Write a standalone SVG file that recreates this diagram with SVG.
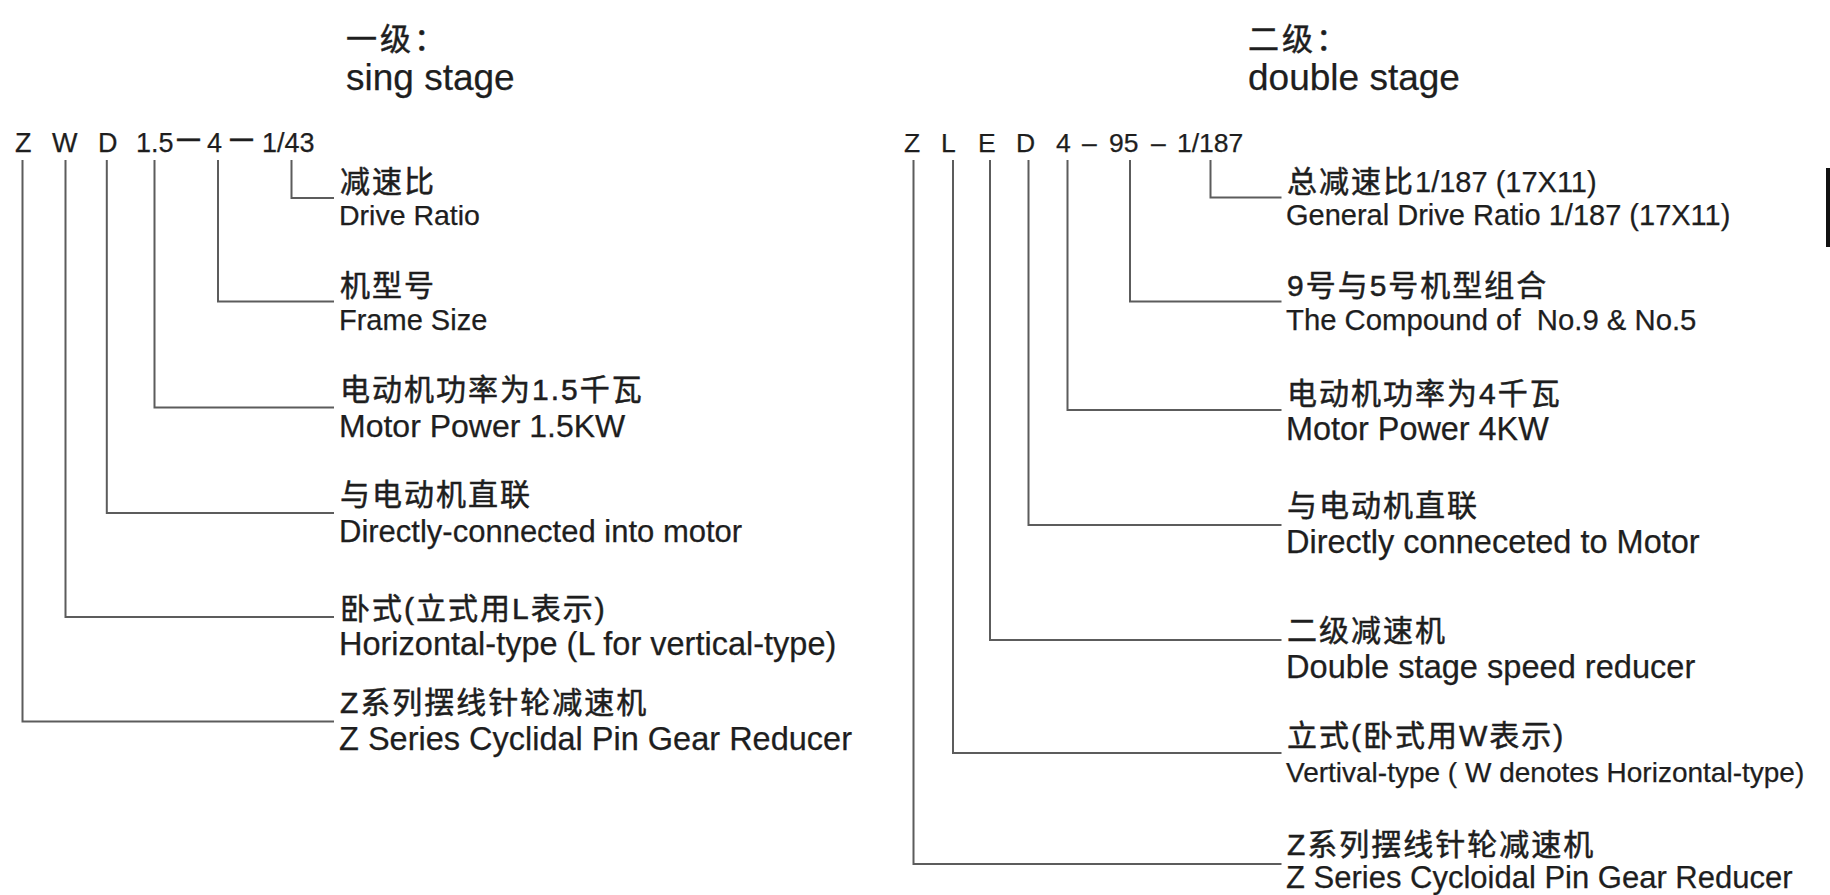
<svg xmlns="http://www.w3.org/2000/svg" width="1830" height="895" viewBox="0 0 1830 895">
<style>
text{font-family:"Liberation Sans","Noto Sans CJK SC",sans-serif;fill:#1e1e1e;stroke:#1e1e1e;stroke-width:0.25px;}
.cn{font-size:30px;letter-spacing:2px;stroke-width:0.5px;}
.hc{font-size:31px;letter-spacing:3px;stroke-width:0.5px;}
.h{font-size:37px;}
.cl{font-size:27px;}
.cr{font-size:26.5px;}
.dash{font-size:23px;font-weight:bold;}
#connectors path{fill:none;stroke:#5c5c5c;stroke-width:2;}
</style>
<rect width="1830" height="895" fill="#ffffff"/>

<g id="title-left">
<text class="hc" x="346" y="50">一级：</text>
<text class="h" x="346" y="90">sing stage</text>
</g>
<g id="title-right">
<text class="hc" x="1248" y="50">二级：</text>
<text class="h" x="1248" y="90">double stage</text>
</g>

<g id="code-left" class="cl">
<text x="15" y="152">Z</text>
<text x="52" y="152">W</text>
<text x="98" y="152">D</text>
<text x="136" y="152">1.5</text>
<text class="dash" x="177" y="146">—</text>
<text x="207" y="152">4</text>
<text class="dash" x="230" y="146">—</text>
<text x="262" y="152">1/43</text>
</g>

<g id="code-right" class="cr">
<text x="904" y="152">Z</text>
<text x="941" y="152">L</text>
<text x="978" y="152">E</text>
<text x="1016" y="152">D</text>
<text x="1056" y="152">4</text>
<text x="1082" y="152">–</text>
<text x="1109" y="152">95</text>
<text x="1151" y="152">–</text>
<text x="1177" y="152">1/187</text>
</g>

<g id="connectors">
<path d="M291.5 160 V198 H334"/>
<path d="M218 160 V301.5 H334"/>
<path d="M154.5 160 V407.5 H334"/>
<path d="M106.8 160 V513 H334"/>
<path d="M65.5 160 V617 H334"/>
<path d="M22.5 160 V721.5 H334"/>
<path d="M1210.5 160 V197.5 H1281.5"/>
<path d="M1130 160 V301.5 H1281.5"/>
<path d="M1067.5 160 V410 H1281.5"/>
<path d="M1028.5 160 V525 H1281.5"/>
<path d="M990 160 V640 H1281.5"/>
<path d="M953 160 V753 H1281.5"/>
<path d="M913.5 160 V864 H1281.5"/>
</g>

<g id="l-ratio">
<text class="cn" x="340" y="192">减速比</text>
<text x="339" y="225" font-size="28.5">Drive Ratio</text>
</g>
<g id="l-frame">
<text class="cn" x="340" y="296">机型号</text>
<text x="339" y="330" font-size="29">Frame Size</text>
</g>
<g id="l-power">
<text class="cn" x="340" y="400">电动机功率为1.5千瓦</text>
<text x="339" y="437" font-size="32">Motor Power 1.5KW</text>
</g>
<g id="l-direct">
<text class="cn" x="340" y="505">与电动机直联</text>
<text x="339" y="542" font-size="31">Directly-connected into motor</text>
</g>
<g id="l-horizontal">
<text class="cn" x="340" y="619">卧式(立式用L表示)</text>
<text x="339" y="655" font-size="32.5">Horizontal-type (L for vertical-type)</text>
</g>
<g id="l-series">
<text class="cn" x="340" y="713">Z系列摆线针轮减速机</text>
<text x="339" y="750" font-size="32.5">Z Series Cyclidal Pin Gear Reducer</text>
</g>

<g id="r-ratio">
<text class="cn" x="1287" y="192">总减速比<tspan font-size="29" letter-spacing="0" stroke-width="0.25">1/187 (17X11)</tspan></text>
<text x="1286" y="225" font-size="29">General Drive Ratio 1/187 (17X11)</text>
</g>
<g id="r-compound">
<text class="cn" x="1287" y="296">9号与5号机型组合</text>
<text x="1286" y="330" font-size="29.3" xml:space="preserve" style="white-space:pre">The Compound of  No.9 &amp; No.5</text>
</g>
<g id="r-power">
<text class="cn" x="1287" y="404">电动机功率为4千瓦</text>
<text x="1286" y="440" font-size="32.4">Motor Power 4KW</text>
</g>
<g id="r-direct">
<text class="cn" x="1287" y="516">与电动机直联</text>
<text x="1286" y="553" font-size="32.5">Directly conneceted to Motor</text>
</g>
<g id="r-double">
<text class="cn" x="1287" y="641">二级减速机</text>
<text x="1286" y="678" font-size="32.6">Double stage speed reducer</text>
</g>
<g id="r-vertical">
<text class="cn" x="1287" y="746">立式(卧式用W表示)</text>
<text x="1286" y="782" font-size="28">Vertival-type ( W denotes Horizontal-type)</text>
</g>
<g id="r-series">
<text class="cn" x="1287" y="855">Z系列摆线针轮减速机</text>
<text x="1286" y="888" font-size="31">Z Series Cycloidal Pin Gear Reducer</text>
</g>

<rect x="1826" y="168" width="4" height="79" fill="#111"/>
</svg>
